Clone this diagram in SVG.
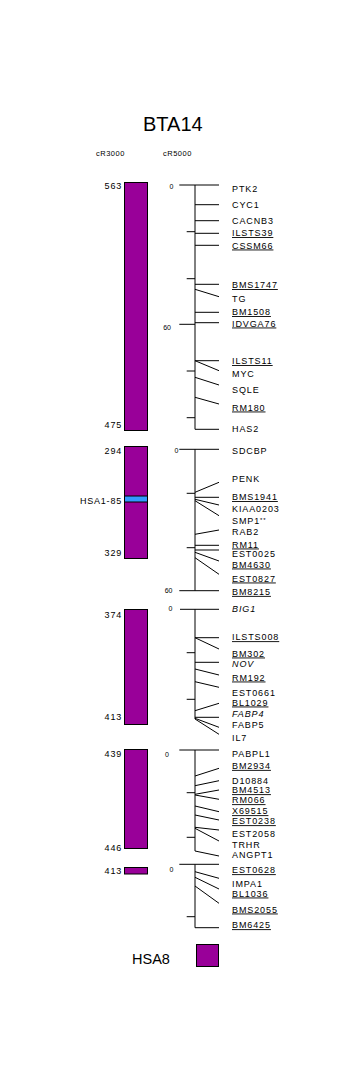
<svg xmlns="http://www.w3.org/2000/svg" width="360" height="1080" viewBox="0 0 360 1080">
<style>
text{font-family:"Liberation Sans",Arial,sans-serif;fill:#000}
.t{font-size:20px}
.l{font-size:9px;letter-spacing:0.9px}
.n{font-size:9px;letter-spacing:0.8px;text-anchor:end}
.s{font-size:7px;text-anchor:end}
.h{font-size:7.5px;letter-spacing:0.5px}
.u{text-decoration:underline}
.i{font-style:italic}
.bar{fill:#990099;stroke:#000;stroke-width:1}
.band{fill:#3399ff;stroke:#000;stroke-width:1}
.c path{fill:none;stroke:#000;stroke-width:1}
.leg{font-size:14.5px}
</style>
<rect width="360" height="1080" fill="#fff"/>
<text class="t" x="143" y="130.7">BTA14</text>
<text class="h" x="96" y="155.5">cR3000</text>
<text class="h" x="163" y="155.5">cR5000</text>

<g class="c" id="connectors">
<path d="M179.3 185H219M195 185V429.3M195 204.7H219M195 220.7H219M186.7 231.7H195M195 233.3H219M195 245.3H219M186.7 278.7H195M195 284.3H219M195 289.3L219 296.7M195 312.3H219M179.3 324.3H195M195 322.7H219M195 360.7H219M195 360.7L219 370.7M186.7 371H195M195 377.3L219 385M195 397.3L219 404M186.7 417.7H195M195 429.3H219"/>
<path d="M179.3 449.3H219M195 449.3V590.7M195 492.3L219 482.3M186.7 493.3H195M195 497.3H219M195 499.3L219 505M195 500.7L219 515.7M195 534.3L219 530M195 545.3H219M186.7 547.7H195M195 550H219M195 552.3L219 561M195 557.7L219 574.3M179.3 590.7H219"/>
<path d="M180 609.3H219M195 609.3V719M195 637.7H219M195 637.7L219 649M186.7 652.7H195M195 662.3H219M195 669L219 675M195 681.7L219 687.3M186.7 699.3H195M195 710.7L219 703.3M195 717.3H219M195 718.3L219 727.3M195 719L219 734.3"/>
<path d="M179.3 750H219M195 750V851M195 776L219 768.3M195 785.7L219 780.7M186.7 792.7H195M195 794.3L219 790M195 795L219 799.3M195 806L219 811.7M195 815L219 820M195 827.3L219 830M186.7 837.3H195M195 828.3L219 841M195 851L219 856"/>
<path d="M179.3 864.3H219M195 864.3V927.7M195 871.7L219 878.3M195 877.3L219 889M195 886L219 903.3M186.7 916.7H195M195 927.7H219"/>
</g>

<g id="seg1">
<rect class="bar" x="124.5" y="182.5" width="23" height="248"/>
<text class="n" x="122" y="189.2">563</text>
<text class="n" x="122" y="428.2">475</text>
<text class="s" x="173.5" y="188.5">0</text>
<text class="s" x="171" y="330">60</text>
<text class="l" x="232" y="191.5">PTK2</text>
<text class="l" x="232" y="208">CYC1</text>
<text class="l" x="232" y="223.5">CACNB3</text>
<text class="l u" x="232" y="236">ILSTS39</text>
<text class="l u" x="232" y="248.5">CSSM66</text>
<text class="l u" x="232" y="288">BMS1747</text>
<text class="l" x="232" y="301.5">TG</text>
<text class="l u" x="232" y="315">BM1508</text>
<text class="l u" x="232" y="326.5">IDVGA76</text>
<text class="l u" x="232" y="364">ILSTS11</text>
<text class="l" x="232" y="376.5">MYC</text>
<text class="l" x="232" y="393">SQLE</text>
<text class="l u" x="232" y="410.5">RM180</text>
<text class="l" x="232" y="431.5">HAS2</text>
</g>

<g id="seg2">
<rect class="bar" x="124.5" y="446.5" width="23" height="112"/>
<rect class="band" x="124.5" y="496" width="23" height="6"/>
<text class="n" x="122" y="454.2">294</text>
<text class="n" x="122" y="503.7">HSA1-85</text>
<text class="n" x="122" y="555.5">329</text>
<text class="s" x="178.5" y="452.5">0</text>
<text class="s" x="172.5" y="592.5">60</text>
<text class="l" x="232" y="454.2">SDCBP</text>
<text class="l" x="232" y="481.5">PENK</text>
<text class="l u" x="232" y="500">BMS1941</text>
<text class="l" x="232" y="512.2">KIAA0203</text>
<text class="l" x="232" y="524.2">SMP1<tspan font-size="6" dy="-2">**</tspan></text>
<text class="l" x="232" y="534.9">RAB2</text>
<text class="l u" x="232" y="547.5">RM11</text>
<text class="l" x="232" y="557.2">EST0025</text>
<text class="l u" x="232" y="567.5">BM4630</text>
<text class="l u" x="232" y="581.5">EST0827</text>
<text class="l u" x="232" y="594.9">BM8215</text>
</g>

<g id="seg3">
<rect class="bar" x="124.5" y="609.5" width="23" height="115"/>
<text class="n" x="122" y="617.5">374</text>
<text class="n" x="122" y="719.9">413</text>
<text class="s" x="172.5" y="611">0</text>
<text class="l i" x="232" y="612.2">BIG1</text>
<text class="l u" x="232" y="640.2">ILSTS008</text>
<text class="l u" x="232" y="656.5">BM302</text>
<text class="l i" x="232" y="666.5">NOV</text>
<text class="l u" x="232" y="680.5">RM192</text>
<text class="l" x="232" y="695.9">EST0661</text>
<text class="l u" x="232" y="705.5">BL1029</text>
<text class="l i" x="232" y="717.2">FABP4</text>
<text class="l" x="232" y="728.2">FABP5</text>
<text class="l" x="232" y="740.9">IL7</text>
</g>

<g id="seg4">
<rect class="bar" x="124.5" y="749.5" width="23" height="99"/>
<text class="n" x="122" y="757.2">439</text>
<text class="n" x="122" y="850.5">446</text>
<text class="s" x="169" y="756.5">0</text>
<text class="l" x="232" y="757.2">PABPL1</text>
<text class="l u" x="232" y="768.9">BM2934</text>
<text class="l" x="232" y="783.9">D10884</text>
<text class="l u" x="232" y="793.2">BM4513</text>
<text class="l u" x="232" y="803.2">RM066</text>
<text class="l u" x="232" y="814.2">X69515</text>
<text class="l u" x="232" y="824.2">EST0238</text>
<text class="l" x="232" y="836.5">EST2058</text>
<text class="l" x="232" y="847.5">TRHR</text>
<text class="l" x="232" y="858.2">ANGPT1</text>
</g>

<g id="seg5">
<rect class="bar" x="124.5" y="867.5" width="23" height="6.5"/>
<text class="n" x="122" y="873.9">413</text>
<text class="s" x="173.5" y="871.5">0</text>
<text class="l u" x="232" y="873.2">EST0628</text>
<text class="l" x="232" y="886.5">IMPA1</text>
<text class="l u" x="232" y="896.5">BL1036</text>
<text class="l u" x="232" y="912.5">BMS2055</text>
<text class="l u" x="232" y="928.2">BM6425</text>
</g>

<g id="legend">
<text class="leg" x="132" y="964">HSA8</text>
<rect class="bar" x="196.5" y="944.5" width="22" height="22"/>
</g>
</svg>
